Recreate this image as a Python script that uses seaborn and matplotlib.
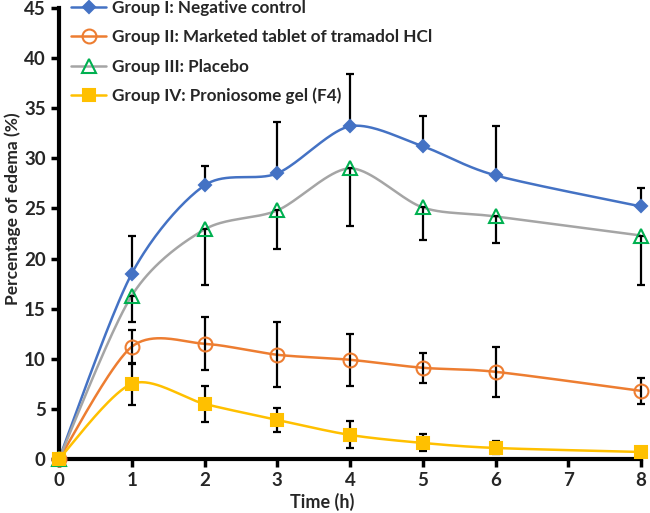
import numpy as np
import pandas as pd
import seaborn as sns
import matplotlib
matplotlib.use("Agg")
import matplotlib.pyplot as plt
from matplotlib.lines import Line2D

sns.set_style("ticks")
plt.rcParams['font.family'] = ['Lato', 'DejaVu Sans']
plt.rcParams['font.weight'] = 'bold'

# data
time_h = [0, 1, 2, 3, 4, 5, 6, 8]
groups = ["Group I: Negative control",
          "Group II: Marketed tablet of tramadol HCl",
          "Group III: Placebo",
          "Group IV: Proniosome gel (F4)"]
g1 = [0, 18.5, 27.3, 28.5, 33.2, 31.2, 28.3, 25.2]
g1_up = [0, 3.8, 1.9, 5.1, 5.2, 3.0, 4.9, 1.8]
g2 = [0, 11.2, 11.5, 10.4, 9.9, 9.1, 8.7, 6.8]
g2_err = [0, 1.7, 2.65, 3.25, 2.6, 1.5, 2.5, 1.3]
g3 = [0, 16.3, 22.9, 24.8, 29.0, 25.1, 24.2, 22.3]
g3_down = [0, 2.6, 5.5, 3.8, 5.8, 3.2, 2.6, 4.9]
g4 = [0, 7.5, 5.5, 3.9, 2.4, 1.6, 1.1, 0.7]
g4_err = [0, 2.1, 1.8, 1.2, 1.35, 0.85, 0.65, 0]


def smooth(x, y, n=40, k=7.0):
    # Catmull-Rom style smoothing like spreadsheet "smoothed line"
    x = np.asarray(x, float)
    y = np.asarray(y, float)
    px = np.concatenate([[x[0]], x, [x[-1]]])
    py = np.concatenate([[y[0]], y, [y[-1]]])
    xs, ys = [], []
    t = np.linspace(0, 1, n)
    for i in range(1, len(px) - 2):
        p0 = np.array([px[i], py[i]])
        p3 = np.array([px[i + 1], py[i + 1]])
        c1 = p0 + (np.array([px[i + 1], py[i + 1]]) - np.array([px[i - 1], py[i - 1]])) / k
        c2 = p3 - (np.array([px[i + 2], py[i + 2]]) - np.array([px[i], py[i]])) / k
        b = ((1 - t) ** 3)[:, None] * p0 + (3 * (1 - t) ** 2 * t)[:, None] * c1 \
            + (3 * (1 - t) * t ** 2)[:, None] * c2 + (t ** 3)[:, None] * p3
        xs.extend(b[:, 0])
        ys.extend(b[:, 1])
    return xs, ys


fig, ax = plt.subplots(figsize=(6.5, 5.13), dpi=100)
fig.subplots_adjust(left=59 / 650, right=641 / 650, top=1 - 8 / 513, bottom=1 - 459 / 513)

zeros = [0] * len(time_h)
series = [
    (g1, [zeros, g1_up], "#4472C4", "D", "#4472C4", "#4472C4", 6.5),
    (g2, [g2_err, g2_err], "#ED7D31", "o", "none", "#ED7D31", 10),
    (g3, [g3_down, zeros], "#A5A5A5", "^", "none", "#00B050", 10),
    (g4, [g4_err, g4_err], "#FFC000", "s", "#FFC000", "#FFC000", 8.5),
]

handles = []
for (vals, err, lc, mk, mfc, mec, ms), name in zip(series, groups):
    sx, sy = smooth(time_h, vals)
    df = pd.DataFrame({"t": sx, "v": sy})
    sns.lineplot(data=df, x="t", y="v", color=lc, lw=1.8, ax=ax, sort=False,
                 estimator=None, zorder=2)
    ax.errorbar(time_h, vals, yerr=np.array(err), fmt="none", ecolor="black",
                elinewidth=1.6, capsize=3, capthick=1.6, zorder=3, clip_on=False)
    ax.plot(time_h, vals, ls="none", marker=mk, ms=ms, mfc=mfc, mec=mec,
            mew=1.5, zorder=4, clip_on=False)
    handles.append(Line2D([], [], color=lc, lw=1.8, marker=mk, ms=ms,
                          mfc=mfc, mec=mec, mew=1.5))

ax.set_xlim(0, 8)
ax.set_ylim(0, 45)
ax.set_xticks(range(0, 9))
ax.set_yticks(range(0, 46, 5))
ax.set_xlabel("Time (h)", fontsize=13, fontweight="bold")
ax.xaxis.set_label_coords(0.452, -0.075)
ax.set_ylabel("Percentage of edema (%)", fontsize=12.5, fontweight="bold")
ax.yaxis.set_label_coords(-0.066, 0.554)
ax.tick_params(axis="both", labelsize=13.5, width=2.5, length=6, direction="out", color="black")
for lab in ax.get_xticklabels() + ax.get_yticklabels():
    lab.set_fontweight("bold")
sns.despine(ax=ax)
ax.spines["left"].set_linewidth(3)
ax.spines["bottom"].set_linewidth(3)
ax.spines["left"].set_color("black")
ax.spines["bottom"].set_color("black")

ax.legend(handles, groups, loc="upper left", bbox_to_anchor=(-0.005, 1.052), frameon=False,
          prop={"size": 12.3, "weight": "bold"}, handlelength=2.0, labelspacing=0.78,
          handletextpad=0.35)

fig.savefig("out.png", dpi=100)
